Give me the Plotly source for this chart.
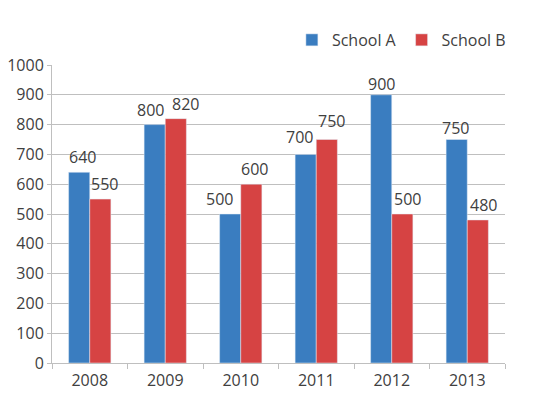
import plotly.graph_objects as go

years = ["2008", "2009", "2010", "2011", "2012", "2013"]
school_a = [640, 800, 500, 700, 900, 750]
school_b = [550, 820, 600, 750, 500, 480]

# label nudges (pixels), style only
dx_a = [3, -4, -11, -6.5, 0, -1]
dx_b = [4.5, 9.5, 3, 5, 5.5, 6]
dy_a = [15, 15, 15, 17, 11, 12]
dy_b = [15, 15, 15, 19, 15, 15]

font_fam = "Open Sans"
txt_col = "#404040"
col_a = "#3A7DC0"
col_b = "#D64343"

fig = go.Figure()
fig.add_trace(go.Bar(x=years, y=school_a, name="School A", marker_color=col_a))
fig.add_trace(go.Bar(x=years, y=school_b, name="School B", marker_color=col_b))

bargap = 0.44

fig.update_layout(
    width=550, height=389,
    margin=dict(l=44, r=53, t=57, b=34, autoexpand=False),
    paper_bgcolor="white", plot_bgcolor="white",
    font=dict(family=font_fam, size=16, color=txt_col),
    barmode="group", bargap=bargap, bargroupgap=0,
    showlegend=True,
    legend=dict(orientation="h", x=1.013, xanchor="right", y=1.084, yanchor="middle",
                font=dict(size=16, color=txt_col), itemwidth=30,
                traceorder="normal"),
    xaxis=dict(type="category", range=[-0.5, len(years) - 0.5],
               showline=True, linecolor="#BFBFBF", linewidth=1,
               automargin=False, ticklabelstandoff=3,
               ticks="outside", tickson="boundaries", ticklen=5, tickcolor="#BFBFBF",
               showgrid=False, tickfont=dict(size=16)),
    yaxis=dict(range=[0, 1000], dtick=100, showline=True, linecolor="#BFBFBF",
               automargin=False,
               gridcolor="#BFBFBF", gridwidth=1, ticks="outside", ticklen=4,
               tickcolor="#BFBFBF", zeroline=False, tickfont=dict(size=16)),
)

# bar half-offset in pixels from plot width
plot_w = 550 - 44 - 53
cat_w = plot_w / len(years)
bar_w = cat_w * (1 - bargap) / 2
off = bar_w / 2

for i, yr in enumerate(years):
    fig.add_annotation(x=i, y=school_a[i], text=str(school_a[i]), showarrow=False,
                       xshift=-off + dx_a[i], yshift=dy_a[i], yanchor="middle",
                       font=dict(size=16, color=txt_col, family=font_fam))
    fig.add_annotation(x=i, y=school_b[i], text=str(school_b[i]), showarrow=False,
                       xshift=off + dx_b[i], yshift=dy_b[i], yanchor="middle",
                       font=dict(size=16, color=txt_col, family=font_fam))

fig.write_html("out.html")
